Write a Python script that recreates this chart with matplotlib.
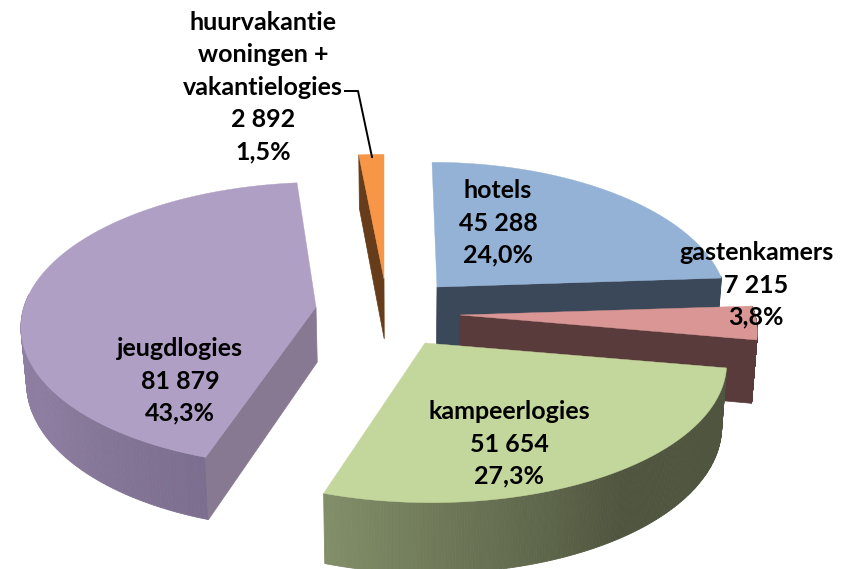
import numpy as np
import matplotlib
matplotlib.use("Agg")
import matplotlib.pyplot as plt
from matplotlib.colors import to_rgb
from matplotlib.patches import Polygon

# ---- data ----
categories = ["hotels", "gastenkamers", "kampeerlogies", "jeugdlogies",
              "huurvakantie\nwoningen +\nvakantielogies"]
values = [45288, 7215, 51654, 81879, 2892]
value_labels = ["45 288", "7 215", "51 654", "81 879", "2 892"]
pct_labels = ["24,0%", "3,8%", "27,3%", "43,3%", "1,5%"]

# ---- styles / layout ----
W, H = 848, 569
top_cols = ["#93B2D6", "#D99694", "#C3D69B", "#B09FC5", "#F79646"]
cut_cols = ["#3B4859", "#5A3B3B", "#4F553E", "#877991", "#663C1B"]
wall_stops = [
    [(0, "#3B4859"), (1, "#3B4859")],
    [(0, "#5A3B3B"), (1, "#5A3B3B")],
    [(0, "#4F553E"), (.45, "#4F553E"), (1, "#828F69")],
    [(0, "#7C6E8E"), (.25, "#8C7DA0"), (.62, "#9283A6"), (1, "#9586A9")],
    [(0, "#663C1B"), (1, "#663C1B")],
]
apex = [(437, 287), (460, 315), (425, 343), (316, 307), (384, 279)]
shear = [5, 0, 6, -6, 0]
wscale = [.975, 1, 1.012, .99, 1]
depth = [60, 62, 62, 55, 60]
A, B, P = 295, 140, .123
label_pos = [(498, 223), (756, 285), (509, 444), (180, 381), (263, 87)]
FS = 18


def top_pt(i, theta):
    X, Y = np.sin(theta), -np.cos(theta)
    s = 1 / (1 - P * Y)
    return (apex[i][0] + A * wscale[i] * X * s + shear[i] * Y,
            apex[i][1] + B * Y * s)


def lower(i, x, y, theta):
    Y = -np.cos(theta)
    s = 1 / (1 - P * Y)
    return 400 + (x - 400) * .985, y + depth[i] * s


def stop_color(stops, t):
    ts = [a for a, _ in stops]
    cs = np.array([to_rgb(c) for _, c in stops])
    return [np.interp(t, ts, cs[:, k]) for k in range(3)]


fig = plt.figure(figsize=(W / 100, H / 100), dpi=100)
ax = fig.add_axes([0, 0, 1, 1])
ax.set_xlim(0, W)
ax.set_ylim(H, 0)
ax.axis("off")

fracs = np.array(values) / sum(values)
edges = np.concatenate([[0], np.cumsum(fracs)]) * 2 * np.pi

z = 1
for i in range(len(values)):
    t0, t1 = edges[i], edges[i + 1]
    th = np.linspace(t0, t1, 200)
    tx, ty = top_pt(i, th)
    bx, by = lower(i, tx, ty, th)
    ax0, ay0 = apex[i]
    abx, aby = 400 + (ax0 - 400) * .985, ay0 + depth[i]

    # outer wall, drawn in strips for the shading
    for k in range(len(th) - 1):
        c = stop_color(wall_stops[i], (th[k] - t0) / (t1 - t0))
        if -np.cos(th[k]) > -0.08:
            ax.add_patch(Polygon([(tx[k], ty[k]), (tx[k + 1], ty[k + 1]),
                                  (bx[k + 1], by[k + 1]), (bx[k], by[k])],
                                 fc=c, ec=c, lw=.6, zorder=z))
    z += 1
    # cut faces
    if i in (0, 1):  # face from apex to the slice's clockwise end
        face = [(ax0, ay0), (tx[-1], ty[-1]), (bx[-1], by[-1]), (abx, aby)]
    elif i == 2:
        face = None
    else:
        face = [(ax0, ay0), (tx[0], ty[0]), (bx[0], by[0]), (abx, aby)]
    if face:
        ax.add_patch(Polygon(face, fc=cut_cols[i], ec=cut_cols[i], lw=.5, zorder=z))
    z += 1
    ax.add_patch(Polygon(np.vstack([[ax0, ay0], np.c_[tx, ty]]),
                         fc=top_cols[i], ec=top_cols[i], lw=.3, zorder=z))
    z += 1

for i, cat in enumerate(categories):
    ax.text(label_pos[i][0], label_pos[i][1],
            f"{cat}\n{value_labels[i]}\n{pct_labels[i]}",
            ha="center", va="center", fontsize=FS, fontweight="bold",
            family="Lato", color="black", linespacing=1.49, zorder=100)

# leader line of the small slice
ax.plot([345, 358, 372], [91, 91, 157], color="black", lw=1.4, zorder=99)

fig.savefig("out.png", dpi=100)
